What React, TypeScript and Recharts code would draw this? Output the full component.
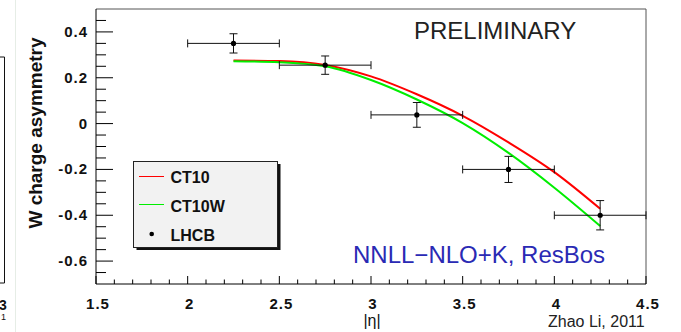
import React from 'react';
import { ComposedChart, Line, Scatter, ErrorBar, XAxis, YAxis, ReferenceLine, Legend } from 'recharts';

// Theory curves (|eta| grid and asymmetry values)
const curveEta = [2.25, 2.5, 2.75, 3.0, 3.25, 3.5, 3.75, 4.0, 4.25];
const ct10 = [0.275, 0.273, 0.256, 0.206, 0.128, 0.034, -0.082, -0.212, -0.372];
const ct10w = [0.272, 0.268, 0.25, 0.19, 0.105, 0.002, -0.128, -0.28, -0.447];

// LHCb data points
const lhcbEta = [2.25, 2.75, 3.25, 3.75, 4.25];
const lhcbAsym = [0.35, 0.255, 0.038, -0.2, -0.4];
const lhcbErrY = [0.042, 0.04, 0.054, 0.057, 0.064];
const lhcbErrX = [0.25, 0.25, 0.25, 0.25, 0.25];

// Axis ticks
const xMajor = [1.5, 2, 2.5, 3, 3.5, 4, 4.5];
const xLabels = ['1.5', '2', '2.5', '3', '3.5', '4', '4.5'];
const xMinor = [1.6, 1.7, 1.8, 1.9, 2.1, 2.2, 2.3, 2.4, 2.6, 2.7, 2.8, 2.9, 3.1, 3.2, 3.3, 3.4, 3.6, 3.7, 3.8, 3.9, 4.1, 4.2, 4.3, 4.4];
const yMajor = [-0.6, -0.4, -0.2, 0, 0.2, 0.4];
const yLabels = ['-0.6', '-0.4', '-0.2', '0', '0.2', '0.4'];
const yMinor = [-0.65, -0.55, -0.5, -0.45, -0.35, -0.3, -0.25, -0.15, -0.1, -0.05, 0.05, 0.1, 0.15, 0.25, 0.3, 0.35, 0.45];

const ct10Data = curveEta.map((x, i) => ({ x, y: ct10[i] }));
const ct10wData = curveEta.map((x, i) => ({ x, y: ct10w[i] }));
const lhcbData = lhcbEta.map((x, i) => ({ x, y: lhcbAsym[i], ex: lhcbErrX[i], ey: lhcbErrY[i] }));

const FONT = '"Liberation Sans", Arial, Helvetica, sans-serif';

const findIdx = (arr: number[], v: number) => arr.findIndex((a) => Math.abs(a - v) < 1e-6);

const XTick = (props: any) => {
  const { x, y, payload } = props;
  const i = findIdx(xMajor, payload.value);
  const major = i >= 0;
  return (
    <g>
      <line x1={x} x2={x} y1={y} y2={y - (major ? 8 : 4.5)} stroke="#000" strokeWidth={1} />
      {major && (
        <text x={x + 2} y={y + 25} textAnchor="middle" fontFamily={FONT} fontWeight="bold" fontSize={15} letterSpacing={1} fill="#111">
          {xLabels[i]}
        </text>
      )}
    </g>
  );
};

const YTick = (props: any) => {
  const { x, y, payload } = props;
  const i = findIdx(yMajor, payload.value);
  const major = i >= 0;
  return (
    <g>
      <line x1={x} x2={x + (major ? 17 : 10)} y1={y} y2={y} stroke="#000" strokeWidth={1} />
      {major && (
        <text x={x - 8} y={y + 5} textAnchor="end" fontFamily={FONT} fontWeight="bold" fontSize={15} letterSpacing={1} fill="#111">
          {yLabels[i]}
        </text>
      )}
    </g>
  );
};

const LegendBox = () => (
  <svg width={150} height={92} style={{ display: 'block' }}>
    <rect x={3.5} y={3} width={144} height={86} fill="#111" />
    <rect x={0.5} y={0.5} width={144} height={86} fill="#f2f2f2" stroke="#222" strokeWidth={1} />
    <line x1={6} x2={31} y1={15.5} y2={15.5} stroke="#ff0000" strokeWidth={1} />
    <text x={37.5} y={22.3} fontFamily={FONT} fontWeight="bold" fontSize={16} fill="#111">CT10</text>
    <line x1={6} x2={31} y1={43.5} y2={43.5} stroke="#00ee00" strokeWidth={1} />
    <text x={37.5} y={51.3} fontFamily={FONT} fontWeight="bold" fontSize={16} fill="#111">CT10W</text>
    <circle cx={18.7} cy={73} r={2.3} fill="#000" />
    <text x={37.5} y={79.5} fontFamily={FONT} fontWeight="bold" fontSize={16} fill="#111">LHCB</text>
  </svg>
);

const Dot = (props: any) => {
  const { cx, cy } = props;
  return <circle cx={cx} cy={cy} r={2.6} fill="#000" />;
};

export default function App() {
  return (
    <div style={{ position: 'absolute', left: 0, top: 0, width: 681, height: 332, background: '#fff', overflow: 'hidden' }}>
      <ComposedChart width={681} height={332} margin={{ top: 9, right: 35, bottom: 0, left: 0 }}>
        <XAxis
          dataKey="x"
          type="number"
          domain={[1.5, 4.5]}
          ticks={[...xMajor, ...xMinor]}
          interval={0}
          tickSize={0}
          tickMargin={0}
          tickLine={false}
          tick={<XTick />}
          height={48}
          allowDataOverflow
          axisLine={{ stroke: '#000', strokeWidth: 1 }}
        />
        <YAxis
          type="number"
          domain={[-0.7, 0.5]}
          ticks={[...yMajor, ...yMinor]}
          interval={0}
          tickSize={0}
          tickMargin={0}
          tickLine={false}
          tick={<YTick />}
          width={96}
          allowDataOverflow
          axisLine={{ stroke: '#000', strokeWidth: 1 }}
        />
        <ReferenceLine y={0.5} stroke="#555" strokeWidth={1} />
        <ReferenceLine x={4.5} stroke="#555" strokeWidth={1} />
        <Line data={ct10Data} dataKey="y" type="monotone" stroke="#ff0000" strokeWidth={2} dot={false} isAnimationActive={false} />
        <Line data={ct10wData} dataKey="y" type="monotone" stroke="#00ee00" strokeWidth={2} dot={false} isAnimationActive={false} />
        <Scatter data={lhcbData} dataKey="y" shape={<Dot />} isAnimationActive={false}>
          <ErrorBar dataKey="ex" direction="x" width={4} stroke="#111" strokeWidth={1} isAnimationActive={false} />
          <ErrorBar dataKey="ey" direction="y" width={4} stroke="#111" strokeWidth={1} isAnimationActive={false} />
        </Scatter>
        <Legend
          layout="horizontal"
          align="center"
          verticalAlign="middle"
          content={() => <LegendBox />}
          wrapperStyle={{ position: 'absolute', left: 133, top: 161, width: 150, height: 92 }}
        />
      </ComposedChart>
      <svg width={681} height={332} style={{ position: 'absolute', left: 0, top: 0, pointerEvents: 'none' }}>
        <line x1={15.5} x2={15.5} y1={0} y2={332} stroke="#e6ede6" strokeWidth={1} />
        <polyline points="0,57 4.5,57 4.5,283 0,283" fill="none" stroke="#111" strokeWidth={1} />
        <text x={-1} y={310} fontFamily={FONT} fontWeight="bold" fontSize={14} fill="#111">3</text>
        <text x={1} y={320} fontFamily={FONT} fontSize={9} fill="#111">1</text>
        <text transform="translate(41.5,133) rotate(-90)" textAnchor="middle" fontFamily={FONT} fontWeight="bold" fontSize={19} fill="#111">
          W charge asymmetry
        </text>
        <text x={414} y={39} fontFamily={FONT} fontSize={24} fill="#222">PRELIMINARY</text>
        <text x={353} y={263} fontFamily={FONT} fontSize={24} fill="#2a2ab4">NNLL−NLO+K, ResBos</text>
        <text x={372} y={326} textAnchor="middle" fontFamily={FONT} fontSize={16} fill="#111">|η|</text>
        <text x={548} y={327} fontFamily={FONT} fontSize={16} fill="#222">Zhao Li, 2011</text>
      </svg>
    </div>
  );
}
